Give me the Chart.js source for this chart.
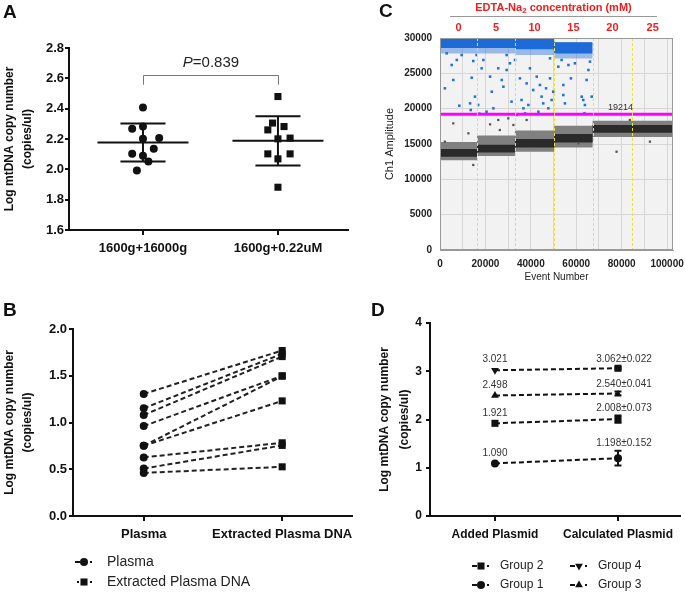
<!DOCTYPE html>
<html>
<head>
<meta charset="utf-8">
<title>mtDNA figure</title>
<script src="https://cdn.jsdelivr.net/npm/chart.js@4.4.1/dist/chart.umd.min.js"></script>
<style>
  html, body { margin: 0; padding: 0; background: #fff; }
  #wrap { position: relative; width: 685px; height: 595px; overflow: hidden; background: #fff;
          font-family: 'Liberation Sans', Arial, sans-serif; color: #111; }
  #wrap canvas { position: absolute; }
  .tag { position: absolute; font-size: 19px; font-weight: bold; line-height: 19px; }
  #edta { position: absolute; left: 450px; top: 1px; width: 207px; text-align: center;
          font-size: 11px; font-weight: bold; color: #f01c1c; line-height: 13px; }
  #edta sub { font-size: 8px; vertical-align: -2px; line-height: 0; }
  #edtaRule { position: absolute; left: 450px; top: 16px; width: 207px; height: 1px; background: #999; }
</style>
</head>
<body>
<div id="wrap">
  <canvas id="chartA" width="360" height="270" style="left:0;top:0"></canvas>
  <canvas id="chartC" width="325" height="290" style="left:360px;top:0"></canvas>
  <canvas id="chartB" width="360" height="305" style="left:0;top:290px"></canvas>
  <canvas id="chartD" width="325" height="305" style="left:360px;top:290px"></canvas>
  <div class="tag" style="left:3px;top:2px">A</div>
  <div class="tag" style="left:3px;top:300px">B</div>
  <div class="tag" style="left:379px;top:1px">C</div>
  <div class="tag" style="left:371px;top:300px">D</div>
  <div id="edta">EDTA-Na<sub>2</sub> concentration (mM)</div>
  <div id="edtaRule"></div>
</div>
<script>
const FONT = "'Liberation Sans', Arial, sans-serif";
Chart.defaults.font.family = FONT;
Chart.defaults.color = '#111';
Chart.defaults.animation = false;
Chart.defaults.responsive = false;
Chart.defaults.plugins.legend.display = false;
Chart.defaults.plugins.tooltip.enabled = false;

// ---- panel A: two centrifugation protocols ----
const groupsA = ['1600g+16000g', '1600g+0.22uM'];
const circlesA = [2.408, 2.267, 2.282, 2.201, 2.206, 2.135, 2.102, 2.089, 2.051, 1.992];
const circlesJitter = [0, -0.08, 0, 0, 0.12, 0.08, -0.08, 0, 0.04, -0.045];
const squaresA = [2.480, 2.305, 2.260, 2.282, 2.201, 2.206, 2.102, 2.102, 2.069, 1.882];
const squaresJitter = [0, -0.04, -0.075, 0.045, 0, 0.09, -0.075, 0.09, 0, 0];
const meanA = [2.177, 2.188];
const sdA = [0.125, 0.162];
const pValueA = '0.839';

// ---- panel B: paired plasma vs extracted ----
const groupsB = ['Plasma', 'Extracted Plasma DNA'];
const plasmaVals = [1.306, 1.152, 1.080, 0.962, 0.751, 0.751, 0.627, 0.508, 0.461];
const extractedVals = [1.770, 1.735, 1.705, 1.500, 1.495, 1.231, 0.783, 0.755, 0.526];

// ---- panel C: ddPCR droplet amplitudes ----
const edtaConc = [0, 5, 10, 15, 20, 25];
const eventMax = 102600;
const eventTicks = [0, 10000, 20000, 30000, 40000, 50000, 60000, 70000, 80000, 90000, 100000];
const segEdges = [0, 16300, 33000, 50300, 67200, 84700, 102600];
const grayLo = [12700, 13300, 13900, 14500, 16000, 16000];
const coreLo = [13200, 13800, 14500, 15200, 16600, 16600];
const coreHi = [14300, 14900, 15700, 16400, 17700, 17700];
const grayHi = [15300, 16200, 16900, 17600, 18300, 18300];
const blueLo = [27800, 27800, 27600, 27100];
const blueCoreLo = [28600, 28600, 28400, 27800];
const blueHi = [29900, 29900, 29900, 29400];
const threshold = 19214;
const blueEvents = [2150, 5850, 8500, 13950, 14650, 15400, 13250, 13550, 16800, 17350,
  19100, 18350, 22050, 22800, 23500, 25650, 27200, 27900, 29350, 30800,
  31500, 33050, 33750, 35200, 35900, 36750, 37450, 38150, 38900, 39600,
  41050, 42600, 43300, 44000, 44750, 45450, 46700, 47700, 48450, 49150,
  49850, 9550, 7400, 16100, 29350, 48450, 2950, 20500, 5150, 52100,
  53550, 54300, 54300, 55000, 57650, 62400, 63100, 63800, 63600, 64550,
  65350, 66800, 66050, 59400, 56550];
const blueAmps = [22880, 24060, 20420, 24380, 26740, 21700, 20750, 19810, 20520, 19290,
  26890, 25710, 24530, 22400, 20050, 25710, 24060, 23110, 25470, 26420,
  20990, 26890, 19100, 24290, 21230, 20050, 19340, 23580, 20520, 25710,
  22640, 24530, 19570, 23350, 21700, 20750, 22880, 20050, 24290, 21230,
  22400, 27590, 26890, 27590, 27590, 27120, 27830, 19570, 26180, 25940,
  26890, 23350, 21930, 20750, 24290, 21700, 21230, 20520, 19340, 24060,
  25470, 21700, 26650, 26420, 26180];
const grayEvents = [5850, 12500, 22050, 25650, 26350, 30050, 32300, 38150, 2150, 14650, 77750, 92450, 83600, 60950];
const grayAmps = [17920, 16510, 17780, 18400, 16980, 18630, 17690, 18400, 15330, 12030, 13910, 15330, 18400, 15090];

// ---- panel D: plasmid recovery ----
const groupsD = ['Group 1', 'Group 2', 'Group 3', 'Group 4'];
const catsD = ['Added Plasmid', 'Calculated Plasmid'];
const addedVals = [1.090, 1.921, 2.498, 3.021];
const calcVals = [1.198, 2.008, 2.540, 3.062];
const calcSD = [0.152, 0.073, 0.041, 0.022];

// ---------- helpers ----------
function catAxis(labels, min, max, size, pad, height) {
  return {
    type: 'linear', min: min, max: max,
    afterBuildTicks: s => { s.ticks = labels.map((_, i) => ({value: i + 1})); },
    afterFit: s => { s.height = height; },
    ticks: { callback: v => labels[v - 1], autoSkip: false, maxRotation: 0, padding: pad,
             color: '#111', font: {size: size, weight: 'bold'} },
    grid: { drawOnChartArea: false, tickLength: 5, lineWidth: 2, color: '#111' },
    border: { color: '#111', width: 2 }
  };
}
function valAxis(o) {
  return {
    min: o.min, max: o.max,
    afterFit: s => { s.width = o.width; },
    ticks: { stepSize: o.step, callback: v => v.toFixed(o.digits), padding: o.pad,
             color: '#111', font: {size: o.size, weight: 'bold'} },
    grid: { drawOnChartArea: false, tickLength: 4, lineWidth: 2, color: '#111' },
    border: { color: '#111', width: 2 },
    title: { display: true, text: ['Log mtDNA copy number', '(copies/ul)'], color: '#111',
             font: {size: 12, weight: 'bold', lineHeight: o.lh}, padding: {top: o.tpad, bottom: 0} }
  };
}
function drawMarker(ctx, style, x, y, r, down) {
  ctx.beginPath();
  if (style === 'circle') {
    ctx.arc(x, y, r, 0, Math.PI * 2);
  } else if (style === 'rect') {
    const s = r * Math.SQRT1_2;
    ctx.rect(x - s, y - s, 2 * s, 2 * s);
  } else {
    const d = down ? -1 : 1;
    ctx.moveTo(x, y - d * r);
    ctx.lineTo(x + r * 0.866, y + d * r * 0.5);
    ctx.lineTo(x - r * 0.866, y + d * r * 0.5);
    ctx.closePath();
  }
  ctx.fill();
}
function legendRow(ctx, x, y, style, r, down, text, lead, fontSize, gap) {
  ctx.fillStyle = '#111';
  if (lead === 'dash') ctx.fillRect(x, y - 1, 5, 2);
  else ctx.fillRect(x + 2, y - 1, 2, 2);
  drawMarker(ctx, style, x + 9, y, r, down);
  ctx.fillRect(x + 15, y - 1, 2, 2);
  ctx.font = fontSize + 'px ' + FONT;
  ctx.textBaseline = 'middle';
  ctx.textAlign = 'left';
  ctx.fillStyle = '#222';
  ctx.fillText(text, x + gap, y);
}
function errBar(xc, m, sd) {
  return [
    {x: xc - 0.337, y: m}, {x: xc + 0.337, y: m}, {x: xc, y: null},
    {x: xc - 0.167, y: m + sd}, {x: xc + 0.167, y: m + sd}, {x: xc, y: null},
    {x: xc - 0.167, y: m - sd}, {x: xc + 0.167, y: m - sd}, {x: xc, y: null},
    {x: xc, y: m - sd}, {x: xc, y: m + sd}
  ];
}

// ---------- A ----------
const bracketPlugin = {
  id: 'bracketA',
  afterDraw(chart) {
    const {ctx, scales: {x, y}} = chart;
    const x1 = Math.round(x.getPixelForValue(1)) + 0.5, x2 = Math.round(x.getPixelForValue(2)) + 0.5;
    const yt = Math.round(y.getPixelForValue(2.624)) + 0.5, yb = y.getPixelForValue(2.558);
    ctx.save();
    ctx.strokeStyle = '#777';
    ctx.lineWidth = 1;
    ctx.beginPath();
    ctx.moveTo(x1, yb); ctx.lineTo(x1, yt); ctx.lineTo(x2, yt); ctx.lineTo(x2, yb);
    ctx.stroke();
    const ty = y.getPixelForValue(2.70);
    ctx.font = 'italic 15px ' + FONT;
    const wP = ctx.measureText('P').width;
    ctx.font = '15px ' + FONT;
    const rest = '=' + pValueA;
    const wR = ctx.measureText(rest).width;
    const sx = (x1 + x2) / 2 - (wP + wR) / 2;
    ctx.fillStyle = '#222';
    ctx.textBaseline = 'middle';
    ctx.textAlign = 'left';
    ctx.font = 'italic 15px ' + FONT;
    ctx.fillText('P', sx, ty);
    ctx.font = '15px ' + FONT;
    ctx.fillText(rest, sx + wP, ty);
    ctx.restore();
  }
};
new Chart(document.getElementById('chartA'), {
  type: 'line',
  data: { datasets: [
    { data: circlesA.map((v, i) => ({x: 1 + circlesJitter[i], y: v})), showLine: false,
      pointStyle: 'circle', pointRadius: 4, pointBackgroundColor: '#111', pointBorderWidth: 0 },
    { data: squaresA.map((v, i) => ({x: 2 + squaresJitter[i], y: v})), showLine: false,
      pointStyle: 'rect', pointRadius: 5, pointBackgroundColor: '#111', pointBorderWidth: 0 },
    { data: errBar(1, meanA[0], sdA[0]), borderColor: '#111', borderWidth: 2, pointRadius: 0 },
    { data: errBar(2, meanA[1], sdA[1]), borderColor: '#111', borderWidth: 2, pointRadius: 0 }
  ]},
  options: {
    layout: { padding: {left: 0, top: 48, right: 12, bottom: 0} },
    scales: {
      x: catAxis(groupsA, 0.452, 2.519, 13, 6, 40),
      y: valAxis({min: 1.6, max: 2.8, step: 0.2, digits: 1, size: 13, width: 69, pad: 1, lh: 1.5, tpad: 1})
    }
  },
  plugins: [bracketPlugin]
});

// ---------- B ----------
const pairLines = [];
plasmaVals.forEach((v, i) => pairLines.push({x: 1, y: v}, {x: 2, y: extractedVals[i]}, {x: 1.5, y: null}));
const legendB = {
  id: 'legendB',
  afterDraw(chart) {
    const ctx = chart.ctx;
    ctx.save();
    legendRow(ctx, 75, 272, 'circle', 4, false, groupsB[0], 'dash', 14, 32);
    legendRow(ctx, 75, 292, 'rect', 5, false, groupsB[1], 'dot', 14, 32);
    ctx.restore();
  }
};
new Chart(document.getElementById('chartB'), {
  type: 'line',
  data: { datasets: [
    { data: plasmaVals.map(v => ({x: 1, y: v})), showLine: false,
      pointStyle: 'circle', pointRadius: 4, pointBackgroundColor: '#111', pointBorderWidth: 0 },
    { data: extractedVals.map(v => ({x: 2, y: v})), showLine: false,
      pointStyle: 'rect', pointRadius: 5, pointBackgroundColor: '#111', pointBorderWidth: 0 },
    { data: pairLines, borderColor: '#222', borderWidth: 2, borderDash: [5, 3], pointRadius: 0 }
  ]},
  options: {
    layout: { padding: {left: 0, top: 39, right: 7, bottom: 0} },
    scales: {
      x: catAxis(groupsB, 0.489, 2.504, 13, 6, 79),
      y: valAxis({min: 0, max: 2, step: 0.5, digits: 1, size: 13, width: 73, pad: 2, lh: 1.5, tpad: 1})
    }
  },
  plugins: [legendB]
});

// ---------- C ----------
function stepLine(vals) {
  const pts = [];
  vals.forEach((v, i) => { pts.push({x: segEdges[i], y: v}, {x: segEdges[i + 1], y: v}); });
  return pts;
}
const cSets = [];
function band(hi, lo, color, order) {
  cSets.push(
    { data: stepLine(hi), fill: '+1', backgroundColor: color, borderColor: 'transparent', borderWidth: 0, pointRadius: 0, order: order },
    { data: stepLine(lo), fill: false, borderColor: 'transparent', borderWidth: 0, pointRadius: 0, order: order }
  );
}
band(grayHi, grayLo, '#808080', 30);
band(coreHi, coreLo, '#2a2a2a', 29);
band(blueHi, blueLo, 'rgba(45,115,220,0.45)', 28);
band(blueHi, blueCoreLo, '#1c6bd8', 27);
cSets.push(
  { data: blueEvents.map((e, i) => ({x: e, y: blueAmps[i]})), showLine: false, pointStyle: 'rect',
    pointRadius: 1.8, pointBackgroundColor: '#2170dc', pointBorderWidth: 0, order: 10 },
  { data: grayEvents.map((e, i) => ({x: e, y: grayAmps[i]})), showLine: false, pointStyle: 'rect',
    pointRadius: 1.6, pointBackgroundColor: '#555', pointBorderWidth: 0, order: 10 },
  { data: [{x: 0, y: threshold}, {x: eventMax, y: threshold}], borderColor: '#ff00ff', borderWidth: 3,
    pointRadius: 0, order: 5 }
);
const ddpcrPlugin = {
  id: 'ddpcr',
  beforeDraw(chart) {
    const {ctx, chartArea: a} = chart;
    ctx.save();
    ctx.fillStyle = '#f2f2f2';
    ctx.fillRect(a.left, a.top, a.right - a.left, a.bottom - a.top);
    ctx.restore();
  },
  afterDatasetsDraw(chart) {
    const {ctx, chartArea: a, scales: {x, y}} = chart;
    ctx.save();
    ctx.strokeStyle = '#eee23a';
    ctx.lineWidth = 1;
    ctx.setLineDash([3, 2]);
    segEdges.slice(1, -1).forEach(e => {
      const px = Math.round(x.getPixelForValue(e)) + 0.5;
      ctx.beginPath(); ctx.moveTo(px, a.top); ctx.lineTo(px, a.bottom); ctx.stroke();
    });
    ctx.setLineDash([]);
    ctx.strokeStyle = '#999';
    ctx.strokeRect(a.left + 0.5, a.top + 0.5, a.right - a.left - 1, a.bottom - a.top - 1);
    ctx.fillStyle = '#333';
    ctx.font = '9px ' + FONT;
    ctx.textAlign = 'center';
    ctx.textBaseline = 'bottom';
    ctx.fillText(String(threshold), x.getPixelForValue(79500), y.getPixelForValue(threshold) - 2);
    ctx.fillStyle = '#f21d1d';
    ctx.font = 'bold 11px ' + FONT;
    ctx.textBaseline = 'middle';
    edtaConc.forEach((c, i) => {
      const mid = (segEdges[i] + segEdges[i + 1]) / 2;
      ctx.fillText(String(c), x.getPixelForValue(mid), 28);
    });
    ctx.restore();
  }
};
new Chart(document.getElementById('chartC'), {
  type: 'line',
  data: { datasets: cSets },
  options: {
    layout: { padding: {left: 0, top: 38, right: 12, bottom: 0} },
    scales: {
      x: {
        type: 'linear', min: 0, max: eventMax,
        afterBuildTicks: s => { s.ticks = eventTicks.map(v => ({value: v})); },
        afterFit: s => { s.height = 40; s.paddingLeft = 0; s.paddingRight = 0; },
        ticks: { autoSkip: false, maxRotation: 0, padding: 8, color: '#222',
                 font: {size: 10, weight: 'bold'}, callback: v => (v % 20000 === 0 ? String(v) : '') },
        grid: { color: '#d6d6d6', drawTicks: false },
        border: { color: '#999' },
        title: { display: true, text: 'Event Number', color: '#222', font: {size: 10}, padding: {top: 0, bottom: 7} }
      },
      y: {
        min: 0, max: 30000,
        afterFit: s => { s.width = 80; s.paddingTop = 0; s.paddingBottom = 0; },
        ticks: { stepSize: 5000, padding: 8, color: '#222', font: {size: 10, weight: 'bold'}, callback: v => String(v) },
        grid: { color: '#d6d6d6', drawTicks: false },
        border: { color: '#999' },
        title: { display: true, text: 'Ch1 Amplitude', color: '#222', font: {size: 11}, padding: {top: 23, bottom: 0} }
      }
    }
  },
  plugins: [ddpcrPlugin]
});

// ---------- D ----------
const markerD = [['circle', 'circle'], ['rect', 'rect'], ['triangle', 'triangle'], ['triangle', 'rect']];
const rotD = [[0, 0], [0, 0], [0, 0], [180, 0]];
const sizeD = [[4, 4], [5, 5], [4.5, 3.5], [4.5, 5]];
const dSets = groupsD.map((g, i) => ({
  label: g,
  data: [{x: 1, y: addedVals[i]}, {x: 2, y: calcVals[i]}],
  borderColor: '#111', borderWidth: 2, borderDash: [5, 3],
  pointStyle: markerD[i], pointRotation: rotD[i], pointRadius: sizeD[i],
  pointBackgroundColor: '#111', pointBorderWidth: 0
}));
const recoveryPlugin = {
  id: 'recovery',
  afterDatasetsDraw(chart) {
    const {ctx, scales: {x, y}} = chart;
    ctx.save();
    ctx.strokeStyle = '#111';
    ctx.lineWidth = 2;
    const x1 = x.getPixelForValue(1), x2 = x.getPixelForValue(2);
    calcVals.forEach((v, i) => {
      const top = y.getPixelForValue(v + calcSD[i]), bot = y.getPixelForValue(v - calcSD[i]);
      ctx.beginPath();
      ctx.moveTo(x2, top); ctx.lineTo(x2, bot);
      ctx.moveTo(x2 - 3.5, top); ctx.lineTo(x2 + 3.5, top);
      ctx.moveTo(x2 - 3.5, bot); ctx.lineTo(x2 + 3.5, bot);
      ctx.stroke();
    });
    ctx.fillStyle = '#333';
    ctx.font = '10px ' + FONT;
    ctx.textAlign = 'center';
    ctx.textBaseline = 'middle';
    addedVals.forEach(v => ctx.fillText(v.toFixed(3), x1, y.getPixelForValue(v) - 10.5));
    calcVals.forEach((v, i) => {
      ctx.fillText(v.toFixed(3) + '\u00b1' + calcSD[i].toFixed(3), x2 + 6, y.getPixelForValue(v + calcSD[i]) - 7.5);
    });
    ctx.restore();
  },
  afterDraw(chart) {
    const ctx = chart.ctx;
    ctx.save();
    legendRow(ctx, 112, 276, 'rect', 5, false, groupsD[1], 'dash', 12, 28);
    legendRow(ctx, 112, 295, 'circle', 4, false, groupsD[0], 'dash', 12, 28);
    legendRow(ctx, 210, 276, 'triangle', 4.5, true, groupsD[3], 'dash', 12, 28);
    legendRow(ctx, 210, 295, 'triangle', 4.5, false, groupsD[2], 'dash', 12, 28);
    ctx.restore();
  }
};
new Chart(document.getElementById('chartD'), {
  type: 'line',
  data: { datasets: dSets },
  options: {
    layout: { padding: {left: 0, top: 33, right: 5, bottom: 0} },
    scales: {
      x: catAxis(catsD, 0.472, 2.504, 12, 6, 79),
      y: valAxis({min: 0, max: 4, step: 1, digits: 0, size: 12, width: 70, pad: 4, lh: 1.667, tpad: 15})
    }
  },
  plugins: [recoveryPlugin]
});
</script>
</body>
</html>
